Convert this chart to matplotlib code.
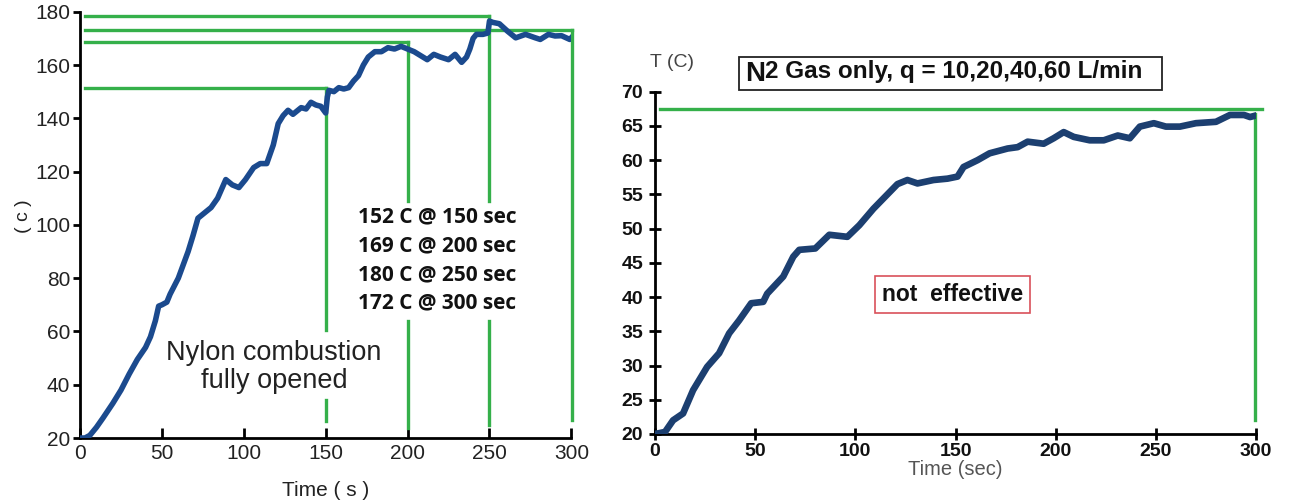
import matplotlib
matplotlib.use("Agg")
import matplotlib.pyplot as plt
from matplotlib.patches import Rectangle

# left panel: nylon combustion, fully opened
left_t = [0, 3, 6, 10, 14, 20, 25, 30, 35, 40, 43, 46, 48, 50, 53, 55, 60, 63, 66, 69,
          72, 76, 80, 84, 89, 93, 97, 101, 106, 110, 114, 118, 121, 124, 127, 130, 133,
          135, 138, 141, 144, 147, 150, 151, 152, 155, 158, 161, 164, 167, 170, 173, 176,
          180, 184, 188, 192, 196, 200, 204, 208, 212, 216, 220, 225, 229, 233, 236, 238,
          240, 242, 246, 249, 250, 252, 256, 261, 266, 272, 278, 281, 286, 290, 294, 299, 301]
left_temp = [20, 20, 21, 24, 27.5, 33, 38, 44, 49.5, 54, 58, 64, 69.5, 70, 71, 74, 80, 85,
             90, 96, 102.5, 104.5, 106.5, 110, 117, 115, 114, 117, 121.5, 123, 123, 130, 138,
             141, 143, 141.5, 143, 144, 143.5, 146, 145, 144.5, 142, 148, 150.5, 150, 151.5,
             151, 151.5, 154, 156, 160, 163, 165, 165, 166.5, 166, 167, 166, 165, 163.5, 162,
             164, 163, 162, 164, 161, 163, 166, 170, 171.5, 171.5, 172, 176.5, 176, 175.5,
             172.7, 170.2, 171.5, 170.2, 169.6, 171.5, 170.9, 171, 169.6, 170.9]

# marker lines: (temperature, time)
left_marks_T = [178.4, 173.1, 168.5, 151.2]
left_marks_t = [250, 300.5, 200, 150]
left_notes = ["152 C @ 150 sec", "169 C @ 200 sec", "180 C @ 250 sec", "172 C @ 300 sec"]

# right panel: N2 gas only
right_t = [0, 5, 9, 14, 19, 26, 32, 37, 42, 48, 54, 56, 64, 69, 72, 80, 87, 96, 102, 109,
           116, 121, 126, 131, 139, 146, 151, 154, 161, 167, 176, 181, 186, 194, 199, 204,
           209, 217, 224, 231, 237, 242, 249, 255, 262, 270, 280, 287, 294, 297, 301]
right_temp = [20, 20.3, 22, 23, 26.4, 29.8, 31.8, 34.7, 36.6, 39.1, 39.3, 40.5, 43, 45.9,
              46.9, 47.1, 49.1, 48.8, 50.5, 52.9, 55.0, 56.5, 57.1, 56.6, 57.1, 57.3, 57.6,
              59, 60, 61, 61.7, 61.9, 62.7, 62.4, 63.2, 64.1, 63.4, 62.9, 62.9, 63.6, 63.2,
              64.9, 65.4, 64.9, 64.9, 65.4, 65.6, 66.6, 66.6, 66.3, 66.6]
right_mark_T = 67.5

green = '#35b04a'
blue_l = '#1b4a8e'
blue_r = '#1c3f70'

fig = plt.figure(figsize=(12.93, 5.03), dpi=100)

# ---------- left ----------
ax1 = fig.add_axes([0.0619, 0.1292, 0.380, 0.8475])
ax1.plot(left_t, left_temp, color=blue_l, lw=4, solid_joinstyle='round', zorder=3)

for T, t in zip(left_marks_T, left_marks_t):
    ax1.plot([3, t], [T, T], color=green, lw=2.4, clip_on=False, zorder=2)
ax1.plot([150, 150], [151.2, 60.6], color=green, lw=2.4, zorder=2)
ax1.plot([150, 150], [34.4, 26.2], color=green, lw=2.4, zorder=2)
ax1.plot([200, 200], [168.5, 109], color=green, lw=2.4, zorder=2)
ax1.plot([200, 200], [63.8, 23.8], color=green, lw=2.4, zorder=2)
ax1.plot([250, 250], [178.4, 109], color=green, lw=2.4, zorder=2)
ax1.plot([250, 250], [63.8, 25], color=green, lw=2.4, zorder=2)
ax1.plot([300.5, 300.5], [173.1, 26.9], color=green, lw=2.4, clip_on=False, zorder=2)

for i, s in enumerate(left_notes):
    ax1.text(170, 103 - i * 10.8, s, fontsize=15, fontweight='bold',
             family=['Open Sans', 'DejaVu Sans'], va='center', ha='left', color='#111')

ax1.text(118.5, 46.8, "Nylon combustion\nfully opened", fontsize=19.5,
         family='Liberation Sans', ha='center', va='center', color='#222', linespacing=1.1)

ax1.set_xlim(0, 300)
ax1.set_ylim(20, 180)
ax1.set_xticks(range(0, 301, 50))
ax1.set_yticks(range(20, 181, 20))
for s in ['top', 'right']:
    ax1.spines[s].set_visible(False)
for s in ['left', 'bottom']:
    ax1.spines[s].set_linewidth(2)
ax1.tick_params(axis='x', direction='in', length=7, width=2, labelsize=15, pad=4)
ax1.tick_params(axis='y', direction='out', length=5, width=2, labelsize=15, pad=2)
for lab in ax1.get_xticklabels() + ax1.get_yticklabels():
    lab.set_family('Liberation Sans')
    lab.set_color('#222')
ax1.set_xlabel("Time ( s )", fontsize=15, family='Liberation Sans', color='#222', labelpad=13)
fig.text(0.018, 0.57, "( c )", rotation=90, fontsize=14, family='Liberation Sans',
         ha='center', va='center', color='#222')

# ---------- right ----------
ax2 = fig.add_axes([0.5066, 0.1372, 0.4648, 0.6805])
ax2.plot(right_t, right_temp, color=blue_r, lw=4.8, solid_joinstyle='round', zorder=3)
ax2.plot([2.5, 303], [right_mark_T, right_mark_T], color=green, lw=2.4, clip_on=False, zorder=2)
ax2.plot([299.5, 299.5], [66.8, 22], color=green, lw=2.4, clip_on=False, zorder=2)

ax2.set_xlim(0, 300)
ax2.set_ylim(20, 70)
ax2.set_xticks(range(0, 301, 50))
ax2.set_yticks(range(20, 71, 5))
for s in ['top', 'right']:
    ax2.spines[s].set_visible(False)
for s in ['left', 'bottom']:
    ax2.spines[s].set_linewidth(2)
ax2.tick_params(direction='inout', length=9, width=2, labelsize=14)
ax2.tick_params(axis='y', pad=4)
ax2.tick_params(axis='x', pad=2)
for lab in ax2.get_xticklabels() + ax2.get_yticklabels():
    lab.set_family('Liberation Sans')
    lab.set_fontweight('bold')
    lab.set_color('#111')
ax2.set_xlabel("Time (sec)", fontsize=14.5, family='Liberation Sans', color='#555', labelpad=0)
ax2.text(8.5, 74.2, "T (C)", fontsize=14, family='Liberation Sans', color='#444',
         ha='center', va='center', clip_on=False)

# title box
ax2.add_patch(Rectangle((42, 70.2), 211, 4.9, facecolor='white', edgecolor='#222',
                        lw=1.3, clip_on=False, zorder=4))
t1 = ax2.text(45, 72.65, "N", fontsize=20, fontweight='bold', family='Liberation Sans',
              ha='left', va='center', color='#111', zorder=5, clip_on=False)
ax2.annotate("2 Gas only, q = 10,20,40,60 L/min", xy=(1, 0.12), xycoords=t1,
             fontsize=17.5, fontweight='bold', family='Liberation Sans', ha='left',
             va='bottom', color='#111', zorder=5, annotation_clip=False)

ax2.text(148.5, 40.4, "not  effective", fontsize=16.5, fontweight='bold',
         family='Liberation Sans', ha='center', va='center', color='#111',
         bbox=dict(boxstyle='square,pad=0.3', facecolor='white', edgecolor='#d9505a', lw=1.2))

fig.savefig("out.png", dpi=100)
